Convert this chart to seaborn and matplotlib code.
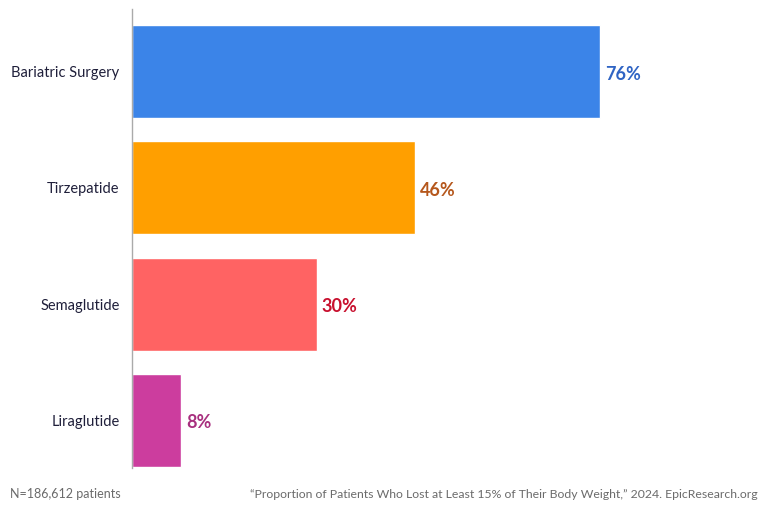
import matplotlib
matplotlib.use("Agg")
import matplotlib.pyplot as plt
import seaborn as sns
import pandas as pd

categories = ["Bariatric Surgery", "Tirzepatide", "Semaglutide", "Liraglutide"]
values = [76, 46, 30, 8]
bar_colors = ["#3B84E8", "#FF9F00", "#FF6363", "#CC3D9E"]
label_colors = ["#2F64C4", "#B5571C", "#C8102E", "#A8307F"]
footer_left = "N=186,612 patients"
footer_right = "\u201cProportion of Patients Who Lost at Least 15% of Their Body Weight,\u201d 2024. EpicResearch.org"

sns.set_theme(style="white")
plt.rcParams["font.family"] = ["Lato", "DejaVu Sans"]

df = pd.DataFrame({"category": categories, "value": values})

fig = plt.figure(figsize=(7.68, 5.12), dpi=100)
ax = fig.add_axes([132/768, 1 - 468/512, (748-132)/768, (468-9)/512])

sns.barplot(data=df, x="value", y="category", hue="category", palette=bar_colors,
            legend=False, width=0.8, ax=ax, saturation=1)

ax.set_xlim(0, 100)
ax.set_ylim(3.41, -0.54)
ax.set_xlabel("")
ax.set_ylabel("")
ax.set_xticks([])
for s in ["top", "right", "bottom"]:
    ax.spines[s].set_visible(False)
ax.spines["left"].set_color("#aaaaaa")
ax.spines["left"].set_linewidth(1)
ax.tick_params(axis="y", length=0, pad=9, labelsize=10.5, labelcolor="#1f1f3a")

for i, (v, c) in enumerate(zip(values, label_colors)):
    ax.text(v + 0.8, i + 0.02, f"{v}%", va="center", ha="left", color=c,
            fontsize=13, fontweight="bold")

fig.text(10/768, 1 - 494/512, footer_left, ha="left", va="center", fontsize=9.0, color="#6b6b6b")
fig.text(758/768, 1 - 494/512, footer_right, ha="right", va="center", fontsize=8.8, color="#6b6b6b")

fig.savefig("out.png", dpi=100)
